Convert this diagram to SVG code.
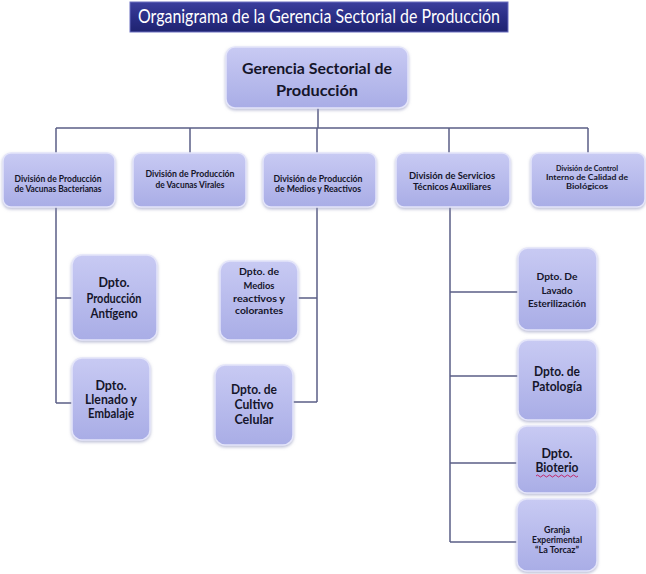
<svg xmlns="http://www.w3.org/2000/svg" width="646" height="574" viewBox="0 0 646 574">
<defs>
<linearGradient id="boxg" x1="0" y1="0" x2="0" y2="1">
<stop offset="0" stop-color="#c8caf3"/>
<stop offset="1" stop-color="#a9ade6"/>
</linearGradient>
<linearGradient id="titleg" x1="0" y1="0" x2="0" y2="1">
<stop offset="0" stop-color="#3b3f9c"/>
<stop offset="0.5" stop-color="#2a2e86"/>
<stop offset="1" stop-color="#1f2370"/>
</linearGradient>
<filter id="sh" x="-10%" y="-10%" width="120%" height="125%">
<feDropShadow dx="0" dy="1.5" stdDeviation="1.5" flood-color="#8a8fb8" flood-opacity="0.6"/>
</filter>
</defs>
<style>
.box{fill:url(#boxg);stroke:#e4e5fa;stroke-width:1.5;filter:url(#sh)}
.ln{fill:none;stroke:#5b5f86;stroke-width:1.5}
text{font-family:Lato,"Open Sans","Liberation Sans",sans-serif;font-weight:bold;fill:#15152a;text-anchor:middle}
.s8{font-size:8px}
.s9{font-size:9px}
.s10{font-size:10px}
.s12{font-size:12.5px}
</style>
<rect width="646" height="574" fill="#ffffff"/>
<g id="title">
<rect x="130" y="2" width="378" height="30" fill="url(#titleg)" stroke="#6a6fc0" stroke-width="1"/>
<text x="319" y="23" style="font-weight:normal;fill:#ffffff;font-size:19px" textLength="362" lengthAdjust="spacingAndGlyphs">Organigrama de la Gerencia Sectorial de Producción</text>
</g>
<g id="connectors">
<path class="ln" d="M318 108V128M56 128H588M56 128V153M190 128V153M317 128V153M449 128V153M588 128V153"/>
<path class="ln" d="M56 207V403M56 298H72M56 403H72"/>
<path class="ln" d="M317 207V402M317 298H298M317 402H293"/>
<path class="ln" d="M450 207V542M450 292H518M450 376H518M450 463H517M450 542H517"/>
</g>
<g id="n-gerencia">
<rect class="box" x="226" y="47" width="182" height="61" rx="9"/>
<text x="317" y="74" style="font-size:16px" textLength="150" lengthAdjust="spacingAndGlyphs">Gerencia Sectorial de</text>
<text x="317" y="96" style="font-size:16px" textLength="82" lengthAdjust="spacingAndGlyphs">Producción</text>
</g>
<g id="n-div1">
<rect class="box" x="3" y="153" width="112" height="54" rx="8"/>
<text class="s9" x="58" y="182" textLength="87" lengthAdjust="spacingAndGlyphs">División de Producción</text>
<text class="s9" x="58" y="192" textLength="87" lengthAdjust="spacingAndGlyphs">de Vacunas Bacterianas</text>
</g>
<g id="n-div2">
<rect class="box" x="133" y="153" width="113" height="54" rx="8"/>
<text class="s9" x="190" y="177" textLength="89" lengthAdjust="spacingAndGlyphs">División de Producción</text>
<text class="s9" x="190" y="188" textLength="69" lengthAdjust="spacingAndGlyphs">de Vacunas Virales</text>
</g>
<g id="n-div3">
<rect class="box" x="263" y="153" width="113" height="54" rx="8"/>
<text class="s9" x="318" y="182" textLength="89" lengthAdjust="spacingAndGlyphs">División de Producción</text>
<text class="s9" x="318" y="192" textLength="86" lengthAdjust="spacingAndGlyphs">de Medios y Reactivos</text>
</g>
<g id="n-div4">
<rect class="box" x="396" y="153" width="114" height="54" rx="8"/>
<text class="s9" x="452" y="179" textLength="86" lengthAdjust="spacingAndGlyphs">División  de Servicios</text>
<text class="s9" x="452" y="190" textLength="78" lengthAdjust="spacingAndGlyphs">Técnicos  Auxiliares</text>
</g>
<g id="n-div5">
<rect class="box" x="531" y="153" width="114" height="54" rx="8"/>
<text class="s8" x="587" y="171" textLength="62" lengthAdjust="spacingAndGlyphs">División de Control</text>
<text class="s8" x="587" y="180" textLength="82" lengthAdjust="spacingAndGlyphs">Interno de Calidad de</text>
<text class="s8" x="587" y="189" textLength="42" lengthAdjust="spacingAndGlyphs">Biológicos</text>
</g>
<g id="n-antigeno">
<rect class="box" x="72" y="255" width="85" height="85" rx="10"/>
<text class="s12" x="114" y="287">Dpto.</text>
<text class="s12" x="114" y="303" textLength="55" lengthAdjust="spacingAndGlyphs">Producción</text>
<text class="s12" x="114" y="318" textLength="47" lengthAdjust="spacingAndGlyphs">Antígeno</text>
</g>
<g id="n-llenado">
<rect class="box" x="72" y="358" width="78" height="82" rx="10"/>
<text class="s12" x="111" y="390">Dpto.</text>
<text class="s12" x="111" y="404" textLength="52" lengthAdjust="spacingAndGlyphs">Llenado y</text>
<text class="s12" x="111" y="418" textLength="46" lengthAdjust="spacingAndGlyphs">Embalaje</text>
</g>
<g id="n-medios">
<rect class="box" x="220" y="261" width="78" height="79" rx="10"/>
<text class="s10" x="259" y="275" textLength="40" lengthAdjust="spacingAndGlyphs">Dpto.  de</text>
<text class="s10" x="259" y="289" textLength="31" lengthAdjust="spacingAndGlyphs">Medios</text>
<text class="s10" x="259" y="302" textLength="52" lengthAdjust="spacingAndGlyphs">reactivos y</text>
<text class="s10" x="259" y="314" textLength="48" lengthAdjust="spacingAndGlyphs">colorantes</text>
</g>
<g id="n-cultivo">
<rect class="box" x="215" y="365" width="78" height="80" rx="10"/>
<text class="s12" x="254" y="394" textLength="46" lengthAdjust="spacingAndGlyphs">Dpto. de</text>
<text class="s12" x="254" y="409" textLength="39" lengthAdjust="spacingAndGlyphs">Cultivo</text>
<text class="s12" x="254" y="424" textLength="39" lengthAdjust="spacingAndGlyphs">Celular</text>
</g>
<g id="n-lavado">
<rect class="box" x="518" y="248" width="79" height="82" rx="10"/>
<text class="s10" x="557" y="280" textLength="41" lengthAdjust="spacingAndGlyphs">Dpto.  De</text>
<text class="s10" x="557" y="294" textLength="31" lengthAdjust="spacingAndGlyphs">Lavado</text>
<text class="s10" x="557" y="307" textLength="58" lengthAdjust="spacingAndGlyphs">Esterilización</text>
</g>
<g id="n-patologia">
<rect class="box" x="518" y="340" width="79" height="80" rx="10"/>
<text class="s12" x="557" y="376" textLength="46" lengthAdjust="spacingAndGlyphs">Dpto. de</text>
<text class="s12" x="557" y="391" textLength="50" lengthAdjust="spacingAndGlyphs">Patología</text>
</g>
<g id="n-bioterio">
<rect class="box" x="517" y="426" width="80" height="67" rx="10"/>
<text class="s12" x="557" y="458">Dpto.</text>
<text class="s12" x="557" y="472" textLength="43" lengthAdjust="spacingAndGlyphs">Bioterio</text>
<path d="M536 476q1.5 -2 3 0t3 0t3 0t3 0t3 0t3 0t3 0t3 0t3 0t3 0t3 0t3 0t3 0t3 0" fill="none" stroke="#c2185b" stroke-width="0.9"/>
</g>
<g id="n-granja">
<rect class="box" x="517" y="499" width="80" height="72" rx="10"/>
<text class="s9" x="557" y="533" textLength="26" lengthAdjust="spacingAndGlyphs">Granja</text>
<text class="s9" x="557" y="543" textLength="50" lengthAdjust="spacingAndGlyphs">Experimental</text>
<text class="s9" x="557" y="553" textLength="44" lengthAdjust="spacingAndGlyphs">“La Torcaz”</text>
</g>
</svg>
